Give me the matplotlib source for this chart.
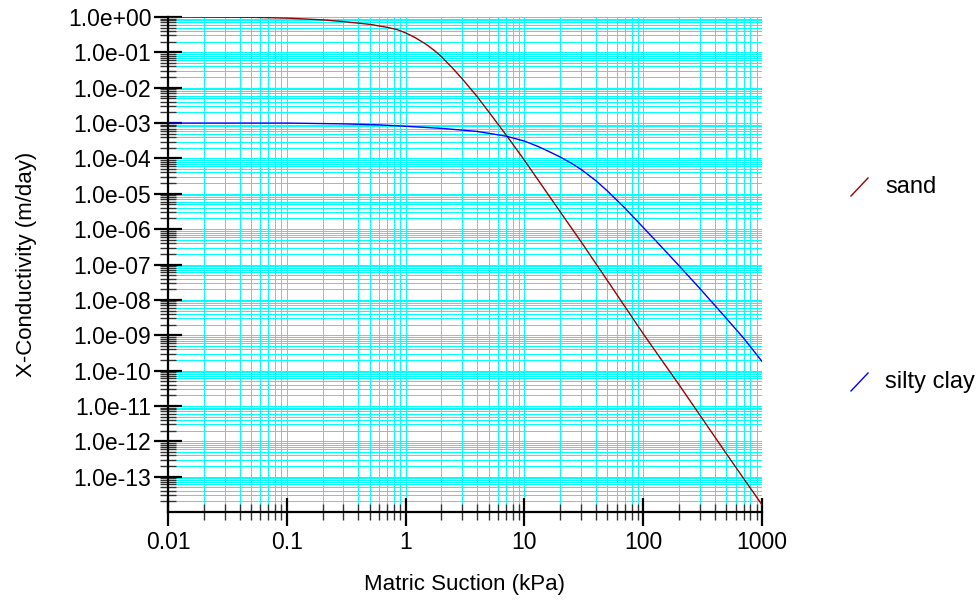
import matplotlib
matplotlib.use("Agg")
import matplotlib.pyplot as plt
from matplotlib.ticker import FixedLocator, FuncFormatter, NullFormatter
from matplotlib.lines import Line2D
import numpy as np

plt.rcParams['font.family'] = ['Liberation Sans', 'DejaVu Sans']

# Hydraulic conductivity functions (matric suction in kPa, conductivity in m/day)
sand_suction = [0.01, 0.05, 0.1, 0.2, 0.3, 0.5, 0.7, 0.85, 1, 1.2, 1.5, 1.75, 2, 2.5,
                3, 4, 5, 7.2, 10, 17, 30, 50, 100, 200, 500, 1000]
sand_k = [1.0, 0.98, 0.93, 0.83, 0.74, 0.62, 0.51, 0.44, 0.355, 0.263, 0.166, 0.112,
          0.076, 0.035, 0.0178, 5.6e-3, 2.1e-3, 4.1e-4, 8.9e-5, 6.8e-6, 4.4e-7,
          3.5e-8, 1.1e-9, 4.0e-11, 4.5e-13, 1.6e-14]

clay_suction = [0.01, 0.1, 0.3, 0.6, 1, 2, 4, 7, 10, 13, 16, 20, 25, 30, 40, 50, 70,
                100, 150, 200, 300, 500, 700, 1000]
clay_k = [1.0e-3, 1.0e-3, 9.5e-4, 8.9e-4, 8.1e-4, 7.1e-4, 5.8e-4, 4.27e-4, 3.09e-4,
          2.19e-4, 1.58e-4, 1.10e-4, 7.24e-5, 4.90e-5, 2.34e-5, 1.20e-5, 3.98e-6,
          1.12e-6, 2.63e-7, 9.3e-8, 2.09e-8, 3.02e-9, 8.3e-10, 1.82e-10]

series_names = ["sand", "silty clay"]
series_colors = ["#9a0000", "#0000ff"]

y_exponents = list(range(0, -14, -1))
x_major = [0.01, 0.1, 1, 10, 100, 1000]

# Tick positions: decades plus 2..9 subdivisions inside the plotted range
y_major = [10.0 ** e for e in y_exponents]
y_minor = [m * 10.0 ** e for e in range(-14, 0) for m in range(2, 10)]
x_minor = [m * 10.0 ** e for e in range(-2, 3) for m in range(2, 10)]

fig = plt.figure(figsize=(9.79, 6.01), dpi=100)
ax = fig.add_axes([168 / 979, 1 - 512 / 601, (762 - 168) / 979, (512 - 17) / 601])

ax.set_xscale('log')
ax.set_yscale('log')
ax.set_xlim(0.01, 1000)
ax.set_ylim(1e-14, 1.0)

ax.xaxis.set_major_locator(FixedLocator(x_major))
ax.yaxis.set_major_locator(FixedLocator(y_major))
ax.xaxis.set_minor_locator(FixedLocator(x_minor))
ax.yaxis.set_minor_locator(FixedLocator(y_minor))
ax.xaxis.set_minor_formatter(NullFormatter())
ax.yaxis.set_minor_formatter(NullFormatter())
ax.xaxis.set_major_formatter(FuncFormatter(lambda v, p: f"{v:g}"))
ax.yaxis.set_major_formatter(FuncFormatter(lambda v, p: f"{v:.1e}"))
ax.grid(False)

# Cyan graph-paper grid, drawn as crisp one-pixel lines
grid_color = '#00ffff'
for v in y_major + y_minor:
    ax.axhline(v, color=grid_color, linewidth=0.72, zorder=0.5, antialiased=False)
for v in x_major + x_minor:
    ax.axvline(v, color=grid_color, linewidth=0.72, zorder=0.5, antialiased=False)

for s in ['top', 'right']:
    ax.spines[s].set_visible(False)
for s in ['left', 'bottom']:
    ax.spines[s].set_linewidth(1.6)
    ax.spines[s].set_zorder(5)

ax.tick_params(which='major', direction='inout', length=20, width=1.6, color='black',
               labelsize=16.5, pad=2)
ax.tick_params(axis='x', which='major', pad=4)
ax.tick_params(which='minor', direction='inout', length=11, width=1.0, color='#333333')

ax.plot(sand_suction, sand_k, color=series_colors[0], linewidth=1.0, zorder=3)
ax.plot(clay_suction, clay_k, color=series_colors[1], linewidth=1.0, zorder=3)

ax.set_xlabel("Matric Suction (kPa)", fontsize=16, labelpad=14)
ax.set_ylabel("X-Conductivity (m/day)", fontsize=16, labelpad=22)

# Key entries to the right of the plot: a short slanted stroke and the name
W, H = 979, 601
key_rows = [187, 382]
for name, color, yc in zip(series_names, series_colors, key_rows):
    fig.add_artist(Line2D([851 / W, 868 / W], [1 - (yc + 9) / H, 1 - (yc - 9) / H],
                          color=color, linewidth=1.0, transform=fig.transFigure))
    fig.text(885 / W, 1 - yc / H, name, fontsize=17, va='center', ha='left')

fig.savefig("out.png", dpi=100)
